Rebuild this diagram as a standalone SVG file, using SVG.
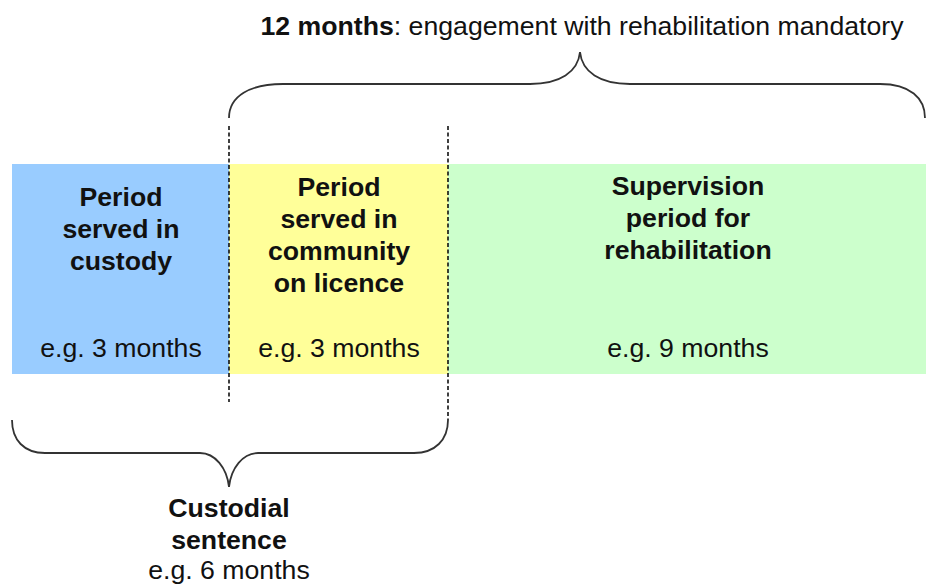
<svg xmlns="http://www.w3.org/2000/svg" width="927" height="586" viewBox="0 0 927 586">
<style>
.t{font-family:"Liberation Sans",Arial,sans-serif;font-size:26.67px;fill:#111;text-anchor:middle}
.b{font-weight:bold}
.brace{fill:none;stroke:#333;stroke-width:1.8}
.dash{fill:none;stroke:#111;stroke-width:1.6;stroke-dasharray:4 2.5}
</style>
<rect width="927" height="586" fill="#fff"/>
<g id="custody">
<rect x="12" y="164" width="217" height="210" fill="#99CCFF"/>
<text class="t b" x="121"><tspan x="121" y="206">Period</tspan><tspan x="121" y="238">served in</tspan><tspan x="121" y="270">custody</tspan></text>
<text class="t" x="121" y="357">e.g. 3 months</text>
</g>
<g id="licence">
<rect x="229" y="164" width="219" height="210" fill="#FFFF99"/>
<text class="t b" x="339"><tspan x="339" y="196">Period</tspan><tspan x="339" y="228">served in</tspan><tspan x="339" y="260">community</tspan><tspan x="339" y="292">on licence</tspan></text>
<text class="t" x="339" y="357">e.g. 3 months</text>
</g>
<g id="supervision">
<rect x="448" y="164" width="478" height="210" fill="#CCFFCC"/>
<text class="t b" x="688"><tspan x="688" y="195">Supervision</tspan><tspan x="688" y="227">period for</tspan><tspan x="688" y="259">rehabilitation</tspan></text>
<text class="t" x="688" y="357">e.g. 9 months</text>
</g>
<g id="engagement">
<text class="t" x="582" y="35"><tspan class="b">12 months</tspan>: engagement with rehabilitation mandatory</text>
</g>
<g id="custodial-sentence">
<text class="t b"><tspan x="229" y="517">Custodial</tspan><tspan x="229" y="549">sentence</tspan></text>
<text class="t" x="229" y="579">e.g. 6 months</text>
</g>
<g id="connectors">
<line class="dash" x1="229" y1="126" x2="229" y2="402"/>
<line class="dash" x1="448" y1="126" x2="448" y2="420"/>
<path class="brace" d="M229,118 C229,96 250,84 283,84 L530,84 C560,84 578,72 580,52 C582,72 600,84 630,84 L880,84 C910,84 925,98 925,118"/>
<path class="brace" d="M12,420 C12,440 24,453 45,453 L200,453 C215,453 227,468 229,487 C231,468 243,453 258,453 L414,453 C435,453 448,440 448,420"/>
</g>
</svg>
